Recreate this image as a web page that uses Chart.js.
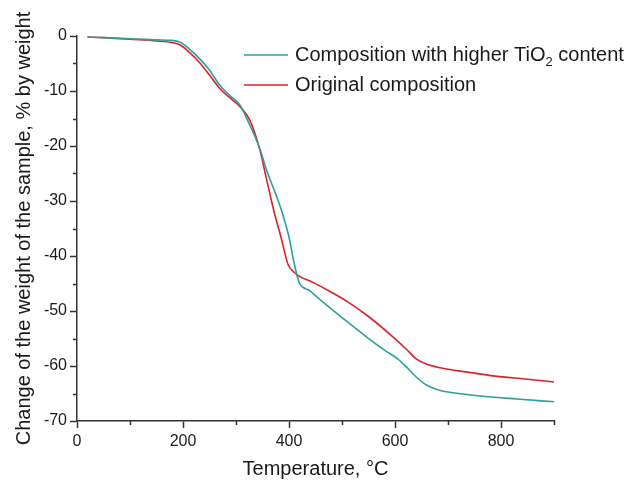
<!DOCTYPE html>
<html>
<head>
<meta charset="utf-8">
<script src="https://cdn.jsdelivr.net/npm/chart.js@4.4.0/dist/chart.umd.min.js"></script>
<style>
  html, body { margin: 0; padding: 0; background: #fff; }
  canvas { display: block; }
</style>
</head>
<body>
<canvas id="tga" width="627" height="481"></canvas>
<script>
// TGA curves (temperature °C -> weight change %)
const tempTiO2 = [20, 50, 100, 150, 180, 194, 210, 232, 250, 269, 288, 307, 326, 345, 358, 376, 390, 401, 408, 415, 420, 439, 458, 500, 546, 580, 605, 622, 640, 660, 684, 720, 766, 830, 900];
const weightTiO2 = [-0.2, -0.3, -0.5, -0.7, -0.8, -1.1, -2.2, -4.2, -6.2, -8.9, -10.8, -12.5, -16.2, -20.5, -24.5, -29, -33, -37, -40.5, -43.5, -45, -46.3, -47.9, -51.2, -54.7, -57.1, -58.7, -60.2, -62, -63.5, -64.4, -65, -65.5, -66, -66.5];

const tempOrig = [20, 50, 100, 150, 180, 194, 210, 232, 250, 269, 288, 307, 326, 345, 358, 372, 386, 398, 410, 420, 445, 480, 515, 550, 596, 622, 640, 660, 700, 750, 785, 850, 900];
const weightOrig = [-0.2, -0.3, -0.6, -0.9, -1.2, -1.6, -2.8, -4.9, -7.1, -9.5, -11.2, -12.8, -15.3, -20.7, -26.2, -32, -37, -41.5, -43, -43.7, -44.8, -46.6, -48.6, -51, -54.7, -57, -58.7, -59.7, -60.6, -61.3, -61.8, -62.4, -62.9];

const seriesNames = ['Composition with higher TiO₂ content', 'Original composition'];
const seriesColors = ['#2f9f9b', '#d8232a'];

const xTicksMinor = [100, 300, 500, 700, 900];
const yTicksMinor = [-5, -15, -25, -35, -45, -55, -65];

const FONT = '"Liberation Sans", Arial, sans-serif';
const AXIS = '#333';
const TEXT = '#1a1a1a';

const toPoints = (xs, ys) => xs.map((x, i) => ({ x: x, y: ys[i] }));

// short minor ticks + legend drawn inside the plot
const extras = {
    id: 'extras',
    afterDraw(chart) {
        const ctx = chart.ctx;
        const sx = chart.scales.x, sy = chart.scales.y;
        const area = chart.chartArea;
        ctx.save();
        ctx.strokeStyle = AXIS;
        ctx.lineWidth = 1.5;
        ctx.beginPath();
        xTicksMinor.forEach(v => {
            const px = Math.round(sx.getPixelForValue(v)) + 0.5;
            ctx.moveTo(px, area.bottom);
            ctx.lineTo(px, area.bottom + 4);
        });
        yTicksMinor.forEach(v => {
            const py = Math.round(sy.getPixelForValue(v)) + 0.5;
            ctx.moveTo(area.left, py);
            ctx.lineTo(area.left - 4, py);
        });
        ctx.stroke();

        // legend
        ctx.textBaseline = 'middle';
        chart.data.datasets.forEach((ds, i) => {
            const y = 55 + i * 30;
            ctx.strokeStyle = ds.borderColor;
            ctx.lineWidth = 1.6;
            ctx.beginPath();
            ctx.moveTo(244, y);
            ctx.lineTo(288, y);
            ctx.stroke();
            ctx.fillStyle = TEXT;
            let x = 295;
            const parts = ds.label.split('₂');
            parts.forEach((p, j) => {
                ctx.font = '20px ' + FONT;
                ctx.fillText(p, x, y);
                x += ctx.measureText(p).width;
                if (j < parts.length - 1) {
                    ctx.font = '13px ' + FONT;
                    ctx.fillText('2', x, y + 7);
                    x += ctx.measureText('2').width;
                }
            });
        });
        ctx.restore();
    }
};

new Chart(document.getElementById('tga'), {
    type: 'line',
    data: {
        datasets: [
            { label: seriesNames[0], data: toPoints(tempTiO2, weightTiO2), borderColor: seriesColors[0] },
            { label: seriesNames[1], data: toPoints(tempOrig, weightOrig), borderColor: seriesColors[1] }
        ].map(d => Object.assign(d, {
            borderWidth: 1.6,
            pointRadius: 0,
            fill: false,
            cubicInterpolationMode: 'monotone'
        }))
    },
    options: {
        responsive: false,
        animation: false,
        devicePixelRatio: 1,
        layout: { padding: { top: 36, right: 73, left: 0, bottom: 0 } },
        plugins: { legend: { display: false }, tooltip: { enabled: false } },
        scales: {
            x: {
                type: 'linear',
                min: 0,
                max: 900,
                afterFit: s => { s.height = 60; },
                ticks: { stepSize: 200, includeBounds: false, color: TEXT, font: { family: FONT, size: 16 }, padding: 4 },
                grid: { drawOnChartArea: false, tickLength: 7, color: AXIS, tickWidth: 1.5 },
                border: { color: AXIS, width: 1.5 },
                title: { display: true, text: 'Temperature, °C', color: TEXT, font: { family: FONT, size: 20 }, padding: { top: 0, bottom: 0 } }
            },
            y: {
                min: -70,
                max: 0,
                afterFit: s => { s.width = 77; },
                ticks: { stepSize: 10, color: TEXT, font: { family: FONT, size: 16 }, padding: 3 },
                grid: { drawOnChartArea: false, tickLength: 7, color: AXIS, tickWidth: 1.5 },
                border: { color: AXIS, width: 1.5 },
                title: { display: true, text: 'Change of the weight of the sample, % by weight', color: TEXT, font: { family: FONT, size: 20 }, padding: { top: 12, bottom: 0 } }
            }
        }
    },
    plugins: [extras]
});
</script>
</body>
</html>
